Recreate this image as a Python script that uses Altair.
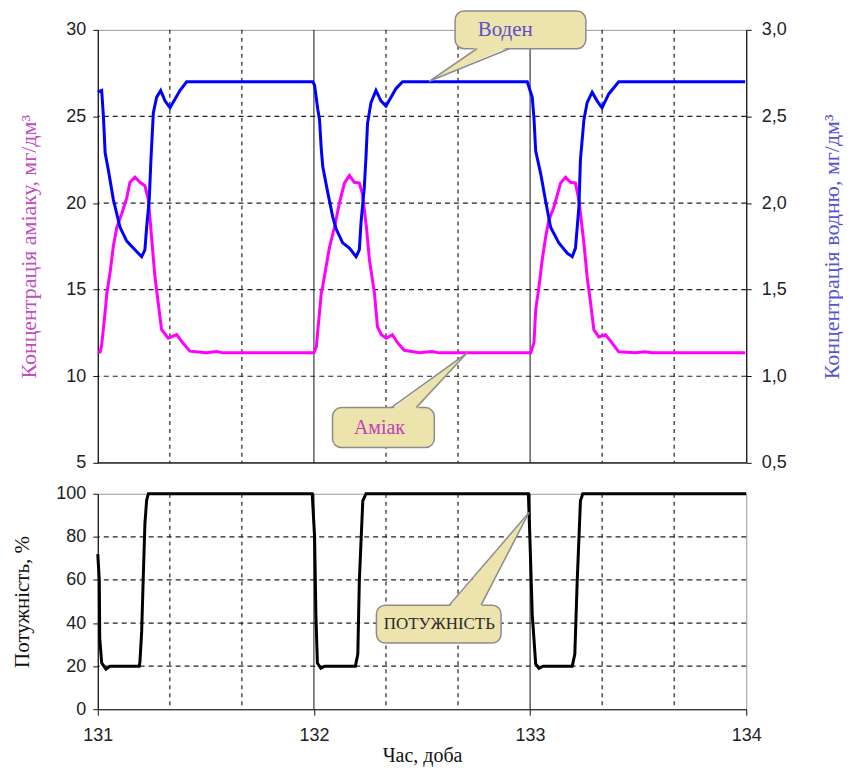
import altair as alt
import pandas as pd

# ---------------- data ----------------
amm_day = [131.000, 131.011, 131.018, 131.034, 131.042, 131.057, 131.072, 131.088, 131.111, 131.134,
           131.149, 131.172, 131.195, 131.218, 131.234, 131.249, 131.264, 131.280, 131.295, 131.326,
           131.365, 131.395, 131.426, 131.503, 131.549, 131.580,
           132.000, 132.011, 132.034, 132.040, 132.072, 132.095, 132.118, 132.141, 132.164, 132.187,
           132.210, 132.224, 132.243, 132.257, 132.280, 132.294, 132.312, 132.335, 132.363, 132.386,
           132.418, 132.487, 132.547, 132.580,
           133.003, 133.018, 133.026, 133.041, 133.056, 133.072, 133.087, 133.110, 133.141, 133.164,
           133.187, 133.210, 133.226, 133.249, 133.264, 133.280, 133.295, 133.318, 133.349, 133.379,
           133.410, 133.487, 133.533, 133.562, 133.995]
amm_val = [11.40, 11.40, 11.80, 13.70, 14.80, 16.00, 17.50, 18.60, 19.40, 20.30,
           21.20, 21.50, 21.20, 21.00, 20.20, 18.00, 15.80, 14.20, 12.70, 12.20,
           12.40, 11.90, 11.45, 11.35, 11.43, 11.35,
           11.35, 11.70, 14.80, 15.15, 17.45, 18.60, 20.00, 21.15, 21.60, 21.20,
           21.15, 20.55, 18.60, 16.70, 14.80, 12.85, 12.40, 12.20, 12.40, 11.95,
           11.50, 11.35, 11.43, 11.35,
           11.35, 11.93, 13.83, 15.16, 16.71, 18.04, 19.02, 19.76, 21.15, 21.49,
           21.20, 21.15, 20.17, 17.69, 15.73, 14.23, 12.68, 12.27, 12.39, 11.93,
           11.41, 11.35, 11.41, 11.35, 11.35]

h2_day = [131.000, 131.018, 131.026, 131.034, 131.049, 131.072, 131.103, 131.134, 131.164, 131.203,
          131.218, 131.226, 131.238, 131.246, 131.257, 131.272, 131.291, 131.311, 131.334, 131.357,
          131.380, 131.411, 131.995,
          132.003, 132.018, 132.026, 132.034, 132.041, 132.064, 132.087, 132.103, 132.133, 132.164,
          132.195, 132.210, 132.218, 132.233, 132.241, 132.248, 132.264, 132.287, 132.310, 132.333,
          132.356, 132.379, 132.410, 132.987,
          133.010, 133.018, 133.026, 133.049, 133.072, 133.095, 133.133, 133.172, 133.195, 133.210,
          133.226, 133.233, 133.249, 133.264, 133.287, 133.310, 133.333, 133.364, 133.410, 133.995]
h2_val = [2.64, 2.65, 2.50, 2.29, 2.19, 2.02, 1.86, 1.78, 1.74, 1.69,
          1.73, 1.86, 2.02, 2.25, 2.52, 2.61, 2.65, 2.59, 2.55, 2.60,
          2.65, 2.70, 2.70,
          2.68, 2.54, 2.48, 2.31, 2.21, 2.06, 1.92, 1.85, 1.77, 1.74,
          1.69, 1.73, 1.89, 2.09, 2.27, 2.46, 2.58, 2.65, 2.59, 2.56,
          2.61, 2.66, 2.70, 2.70,
          2.61, 2.49, 2.30, 2.17, 2.01, 1.86, 1.77, 1.71, 1.69, 1.74,
          1.98, 2.25, 2.48, 2.58, 2.64, 2.59, 2.55, 2.63, 2.70, 2.70]

pw_day = [131.000, 131.007, 131.009, 131.018, 131.038, 131.057, 131.192, 131.195, 131.203, 131.210,
          131.218, 131.226, 131.234, 131.992,
          132.003, 132.009, 132.016, 132.032, 132.050, 132.192, 132.203, 132.210, 132.226, 132.241,
          132.992, 132.998, 133.010, 133.026, 133.041, 133.060, 133.195, 133.207, 133.218, 133.233,
          133.244, 134.000]
pw_val = [72, 60, 33, 21.5, 18.6, 20, 20, 22, 36, 60,
          86, 97, 100, 100,
          80, 44, 21.4, 19, 20, 20, 25.6, 59.5, 96.7, 100,
          100, 83, 44, 21, 19, 20, 20, 25.6, 59.5, 96.7,
          100, 100]

x_ticks = [131, 132, 133, 134]
x_grid_minor = [131 + 1/3, 131 + 2/3, 132 + 1/3, 132 + 2/3, 133 + 1/3, 133 + 2/3]
x_grid_major = [132, 133]
amm_ticks = [5, 10, 15, 20, 25, 30]
amm_grid = [10, 15, 20, 25]
amm_floor = [5]
h2_ticks = [0.5, 1.0, 1.5, 2.0, 2.5, 3.0]
pw_ticks = [0, 20, 40, 60, 80, 100]
pw_grid = [20, 40, 60, 80]

# callouts: label, box (x1, x2, y1, y2), text position, pointer tip, pointer base (x_a, x_b, y)
top_callouts = [
    dict(label="Воден", color="#5a50cc", size=21, box=(132.653, 133.258, 28.91, 31.09),
         text=(132.885, 30.0), tip=(132.533, 27.03), base=(132.755, 132.903, 28.91), inward=0.12),
    dict(label="Аміак", color="#c040b8", size=20, box=(132.086, 132.557, 5.88, 8.19),
         text=(132.303, 7.03), tip=(132.709, 11.35), base=(132.358, 132.473, 8.19), inward=-0.12),
]
bottom_callouts = [
    dict(label="ПОТУЖНІСТЬ", color="#2a2a2a", size=17, box=(132.289, 132.866, 30.7, 48.3),
         text=(132.580, 39.5), tip=(132.995, 91.3), base=(132.626, 132.773, 48.3), inward=-0.9),
]

# ---------------- helpers ----------------
X_DOMAIN = [131, 134]
BOX_FILL = "#ede3ad"
BOX_STROKE = "#8c8c8c"


def x_enc(field, axis):
    return alt.X(field, type="quantitative", scale=alt.Scale(domain=X_DOMAIN, nice=False, zero=False), axis=axis)


def tri_rows(c):
    (tx, ty) = c["tip"]
    bxa, bxb, by = c["base"]
    by_in = by + c["inward"]
    pts = sorted([(tx, ty), (bxa, by_in), (bxb, by_in)])
    (x0, y0), (x1, y1), (x2, y2) = pts
    yl = y0 + (y2 - y0) * (x1 - x0) / (x2 - x0)
    return [dict(x=x0, y=y0, y2=y0), dict(x=x1, y=y1, y2=yl), dict(x=x2, y=y2, y2=y2)]


def callout_layer(callouts, y_scale, axis_x):
    layers = []
    for c in callouts:
        bx1, bx2, by1, by2 = c["box"]
        box = alt.Chart(pd.DataFrame([dict(x=bx1, x2=bx2, y=by1, y2=by2)])).mark_rect(
            fill=BOX_FILL, stroke=BOX_STROKE, strokeWidth=1.5, cornerRadius=9
        ).encode(x=x_enc("x", axis_x), x2="x2:Q",
                 y=alt.Y("y:Q", scale=y_scale, axis=None), y2="y2:Q")
        tri = alt.Chart(pd.DataFrame(tri_rows(c))).mark_area(
            fill=BOX_FILL, opacity=1, strokeWidth=0
        ).encode(x=x_enc("x", axis_x), y=alt.Y("y:Q", scale=y_scale, axis=None), y2="y2:Q")
        tx, ty = c["tip"]
        bxa, bxb, by = c["base"]
        edges = alt.Chart(pd.DataFrame([dict(x=tx, y=ty, x2=bxa, y2=by), dict(x=tx, y=ty, x2=bxb, y2=by)])).mark_rule(
            color=BOX_STROKE, strokeWidth=1.5
        ).encode(x=x_enc("x", axis_x), x2="x2:Q", y=alt.Y("y:Q", scale=y_scale, axis=None), y2="y2:Q")
        txt = alt.Chart(pd.DataFrame([dict(x=c["text"][0], y=c["text"][1], t=c["label"])])).mark_text(
            font="Liberation Serif", fontSize=c["size"], color=c["color"], align="center", baseline="middle"
        ).encode(x=x_enc("x", axis_x), y=alt.Y("y:Q", scale=y_scale, axis=None), text="t:N")
        layers += [box, tri, edges, txt]
    return alt.layer(*layers)


# ---------------- top panel ----------------
x_axis_top = None
amm_scale = alt.Scale(domain=[5, 30], nice=False, zero=False)
h2_scale = alt.Scale(domain=[0.5, 3.0], nice=False, zero=False)
amm_axis = alt.Axis(values=amm_ticks, grid=False, tickSize=5, labelPadding=7,
                    title="Концентрація аміаку, мг/дм³", titleColor="#c24cc2", titlePadding=25,
                    titleFontSize=22)
h2_axis = alt.Axis(values=h2_ticks, grid=False, orient="right", tickSize=5, labelPadding=10,
                   labelExpr="replace(format(datum.value, '.1f'), '.', ',')",
                   title="Концентрація водню, мг/дм³", titleColor="#5454d4", titlePadding=35,
                   titleAngle=270, titleBaseline="top", titleFontSize=22)

amm_df = pd.DataFrame({"day": amm_day, "val": amm_val})
h2_df = pd.DataFrame({"day": h2_day, "val": h2_val})

vgrid_minor = alt.Chart(pd.DataFrame({"x": x_grid_minor})).mark_rule(
    color="#222", strokeWidth=1.2, strokeDash=[4, 4]).encode(x=x_enc("x", x_axis_top))
vgrid_major = alt.Chart(pd.DataFrame({"x": x_grid_major})).mark_rule(
    color="#111", strokeWidth=1).encode(x=x_enc("x", x_axis_top))
hgrid_top = alt.Chart(pd.DataFrame({"y": amm_grid})).mark_rule(
    color="#222", strokeWidth=1.2, strokeDash=[5, 4]).encode(y=alt.Y("y:Q", scale=amm_scale, axis=amm_axis))
floor_top = alt.Chart(pd.DataFrame({"y": amm_floor})).mark_rule(
    color="#111", strokeWidth=1.2).encode(y=alt.Y("y:Q", scale=amm_scale, axis=amm_axis))
amm_line = alt.Chart(amm_df).mark_line(color="#ff00ff", strokeWidth=3).encode(
    x=x_enc("day", x_axis_top), y=alt.Y("val:Q", scale=amm_scale, axis=amm_axis))
part_a = alt.layer(vgrid_minor, vgrid_major, hgrid_top, floor_top, amm_line)

h2_line = alt.Chart(h2_df).mark_line(color="#0000ff", strokeWidth=3).encode(
    x=x_enc("day", x_axis_top), y=alt.Y("val:Q", scale=h2_scale, axis=h2_axis))

part_c = callout_layer(top_callouts, amm_scale, x_axis_top)

top = alt.layer(part_a, h2_line, part_c).resolve_scale(y="independent").properties(width=650, height=434)

# ---------------- bottom panel ----------------
x_axis_bot = alt.Axis(values=x_ticks, format="d", grid=False, tickSize=6, labelPadding=11,
                      labelFlush=False, title="Час, доба", titlePadding=1, titleFontSize=20)
pw_scale = alt.Scale(domain=[0, 100], nice=False, zero=False)
pw_axis = alt.Axis(values=pw_ticks, grid=False, tickSize=5, labelPadding=7,
                   title="Потужність, %", titleColor="#111", titlePadding=23, titleFontSize=21)

pw_df = pd.DataFrame({"day": pw_day, "val": pw_val})

vgrid_minor_b = alt.Chart(pd.DataFrame({"x": x_grid_minor})).mark_rule(
    color="#222", strokeWidth=1.2, strokeDash=[4, 4]).encode(x=x_enc("x", x_axis_bot))
vgrid_major_b = alt.Chart(pd.DataFrame({"x": x_grid_major})).mark_rule(
    color="#111", strokeWidth=1).encode(x=x_enc("x", x_axis_bot))
hgrid_bot = alt.Chart(pd.DataFrame({"y": pw_grid})).mark_rule(
    color="#222", strokeWidth=1.2, strokeDash=[5, 4]).encode(y=alt.Y("y:Q", scale=pw_scale, axis=pw_axis))
pw_line = alt.Chart(pw_df).mark_line(color="#000000", strokeWidth=3).encode(
    x=x_enc("day", x_axis_bot), y=alt.Y("val:Q", scale=pw_scale, axis=pw_axis))

bottom_main = alt.layer(vgrid_minor_b, vgrid_major_b, hgrid_bot, pw_line)
bottom = alt.layer(bottom_main, callout_layer(bottom_callouts, pw_scale, x_axis_bot)).resolve_scale(
    y="independent").properties(width=650, height=216)

chart = alt.vconcat(top, bottom, spacing=11).properties(
    padding={"left": 3, "top": 0, "right": 0, "bottom": 0}
).configure_view(
    stroke="#999999", strokeWidth=1
).configure_axis(
    domainColor="#111111", tickColor="#111111", domainWidth=1.2,
    labelFont="Liberation Sans", labelFontSize=18, labelColor="#222222",
    titleFont="Liberation Serif", titleFontSize=20, titleFontWeight="normal", titleColor="#111111"
).configure_concat(spacing=11)

chart.save("out.html", embed_options={"renderer": "svg", "actions": False})
